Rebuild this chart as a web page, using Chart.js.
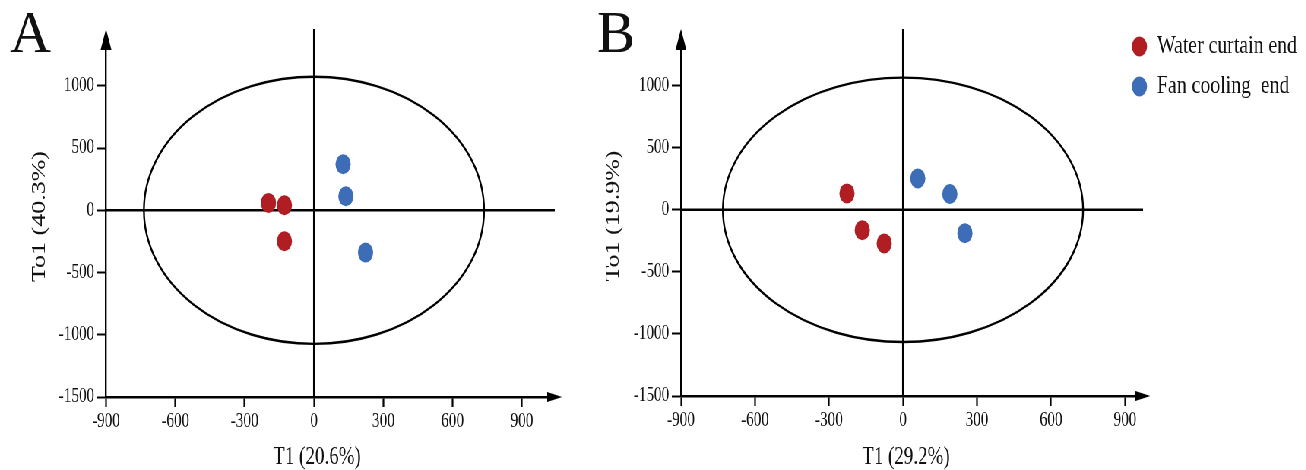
<!DOCTYPE html>
<html><head><meta charset="utf-8">
<script src="https://cdn.jsdelivr.net/npm/chart.js@4.4.1/dist/chart.umd.min.js"></script>
<style>
html,body{margin:0;padding:0;background:#fff;overflow:hidden;width:1306px;height:470px;}
#wrap{position:absolute;left:0;top:0;width:1718px;height:470px;transform:scaleX(0.76);transform-origin:0 0;}
#cA{position:absolute;left:0;top:0;width:776px;height:470px;}
#cB{position:absolute;left:776px;top:0;width:942px;height:470px;}
</style></head><body>
<div id="wrap"><canvas id="cA" width="776" height="470"></canvas><canvas id="cB" width="942" height="470"></canvas></div>
<script>
// ---- data ----
const seriesNames = ['Water curtain end', 'Fan cooling  end'];
const seriesColors = ['#b01e24', '#3d6db6'];
const panelLetters = ['A', 'B'];
const xTickValues = [-900, -600, -300, 0, 300, 600, 900];
const yTickValues = [-1500, -1000, -500, 0, 500, 1000];
// Panel A
const aTitles = ['T1 (20.6%)', 'To1 (40.3%)'];
const aWaterX = [-197, -128, -128];
const aWaterY = [59, 40, -249];
const aFanX = [126, 138, 223];
const aFanY = [370, 113, -340];
const aEllipse = [736, 1073];
// Panel B
const bTitles = ['T1 (29.2%)', 'To1 (19.9%)'];
const bWaterX = [-227, -165, -76];
const bWaterY = [132, -164, -271];
const bFanX = [60, 190, 251];
const bFanY = [253, 127, -188];
const bEllipse = [730, 1065];

const FONT = '"Liberation Serif", "Times New Roman", serif';
const INK = '#111111';
const LW = 2.4;
Chart.defaults.font.family = FONT;

function pts(xs, ys) { return xs.map((v, i) => ({ x: v, y: ys[i] })); }

function decor(p) {
  return {
    id: 'decor' + p.letter,
    beforeDatasetsDraw(chart) {
      const { ctx, chartArea: ca, scales: { x, y } } = chart;
      const x0 = x.getPixelForValue(0), y0 = y.getPixelForValue(0);
      ctx.save();
      ctx.strokeStyle = '#000';
      ctx.lineWidth = LW;
      ctx.beginPath();
      ctx.moveTo(x0, ca.bottom); ctx.lineTo(x0, ca.top - 7);
      ctx.moveTo(ca.left, y0); ctx.lineTo(ca.right, y0);
      ctx.stroke();
      const rx = Math.abs(x.getPixelForValue(p.ellipse[0]) - x0);
      const ry = Math.abs(y.getPixelForValue(p.ellipse[1]) - y0);
      ctx.beginPath();
      ctx.ellipse(x0, y0, rx, ry, 0, 0, Math.PI * 2);
      ctx.stroke();
      ctx.restore();
    },
    afterDraw(chart) {
      const { ctx, chartArea: ca, scales: { x } } = chart;
      const x0 = x.getPixelForValue(0);
      ctx.save();
      ctx.fillStyle = '#000';
      // y-axis arrow
      ctx.beginPath();
      ctx.moveTo(ca.left, ca.top - 7);
      ctx.lineTo(ca.left - 7.2, ca.top + 14);
      ctx.lineTo(ca.left + 7.2, ca.top + 14);
      ctx.closePath(); ctx.fill();
      // x-axis arrow
      ctx.beginPath();
      ctx.moveTo(ca.right + 9.5, ca.bottom);
      ctx.lineTo(ca.right - 10, ca.bottom - 5);
      ctx.lineTo(ca.right - 10, ca.bottom + 5);
      ctx.closePath(); ctx.fill();
      // x-axis title
      ctx.fillStyle = INK;
      ctx.font = '25px ' + FONT;
      ctx.textAlign = 'center';
      ctx.textBaseline = 'middle';
      ctx.fillText(p.xTitle, x0 + 4, 457);
      // panel letter
      ctx.save();
      ctx.translate(p.letterX, 52);
      ctx.scale(1.25, 1);
      ctx.font = '60px ' + FONT;
      ctx.textAlign = 'left';
      ctx.textBaseline = 'alphabetic';
      ctx.fillText(p.letter, 0, 0);
      ctx.restore();
      // legend
      if (p.legend) {
        const rows = [46.5, 86.5];
        seriesNames.forEach((name, i) => {
          ctx.fillStyle = seriesColors[i];
          ctx.beginPath();
          ctx.arc(723.3, rows[i], 10, 0, Math.PI * 2);
          ctx.fill();
          ctx.fillStyle = INK;
          ctx.font = '26px ' + FONT;
          ctx.textAlign = 'left';
          ctx.textBaseline = 'middle';
          ctx.fillText(name, 746.4, rows[i]);
        });
      }
      ctx.restore();
    }
  };
}

function makeChart(id, p) {
  return new Chart(document.getElementById(id), {
    type: 'scatter',
    data: {
      datasets: [
        { label: seriesNames[0], data: pts(p.wx, p.wy), backgroundColor: seriesColors[0], borderColor: seriesColors[0], pointRadius: 10, pointBorderWidth: 0, pointHoverRadius: 10 },
        { label: seriesNames[1], data: pts(p.fx, p.fy), backgroundColor: seriesColors[1], borderColor: seriesColors[1], pointRadius: 10, pointBorderWidth: 0, pointHoverRadius: 10 }
      ]
    },
    options: {
      responsive: false,
      animation: false,
      events: [],
      layout: { padding: { left: 0, top: 36, right: p.padRight, bottom: 0 } },
      plugins: { legend: { display: false }, tooltip: { enabled: false } },
      scales: {
        x: {
          type: 'linear', position: 'bottom', min: -900, max: p.xMax,
          afterBuildTicks: s => { s.ticks = xTickValues.map(v => ({ value: v })); },
          afterFit: s => { s.height = p.xHeight; },
          grid: { display: true, drawOnChartArea: false, drawTicks: true, tickLength: 10, tickColor: '#000', tickWidth: 2.2 },
          border: { display: true, color: '#000', width: LW },
          ticks: { autoSkip: false, maxRotation: 0, padding: 3, color: INK, font: { size: 20, family: FONT }, callback: v => String(v) }
        },
        y: {
          type: 'linear', position: 'left', min: -1500, max: 1400,
          afterBuildTicks: s => { s.ticks = yTickValues.map(v => ({ value: v })); },
          afterFit: s => { s.width = p.yWidth; },
          grid: { display: true, drawOnChartArea: false, drawTicks: true, tickLength: 12, tickColor: '#000', tickWidth: 2 },
          border: { display: true, color: '#000', width: LW },
          ticks: { autoSkip: false, padding: 3.5, color: INK, font: { size: 20, family: FONT }, callback: v => String(v) },
          title: { display: true, text: p.yTitle, color: INK, font: { size: 26, family: FONT }, padding: { top: p.yTitlePad, bottom: 0 } }
        }
      }
    },
    plugins: [decor(p)]
  });
}

makeChart('cA', {
  letter: panelLetters[0], letterX: 13, legend: false,
  wx: aWaterX, wy: aWaterY, fx: aFanX, fy: aFanY,
  ellipse: aEllipse, xTitle: aTitles[0], yTitle: aTitles[1],
  xMax: 1042, padRight: 46, yWidth: 139.5, xHeight: 73, yTitlePad: 37
});
makeChart('cB', {
  letter: panelLetters[1], letterX: 9.5, legend: true,
  wx: bWaterX, wy: bWaterY, fx: bFanX, fy: bFanY,
  ellipse: bEllipse, xTitle: bTitles[0], yTitle: bTitles[1],
  xMax: 973, padRight: 214, yWidth: 120, xHeight: 74, yTitlePad: 16
});
</script>
</body></html>
